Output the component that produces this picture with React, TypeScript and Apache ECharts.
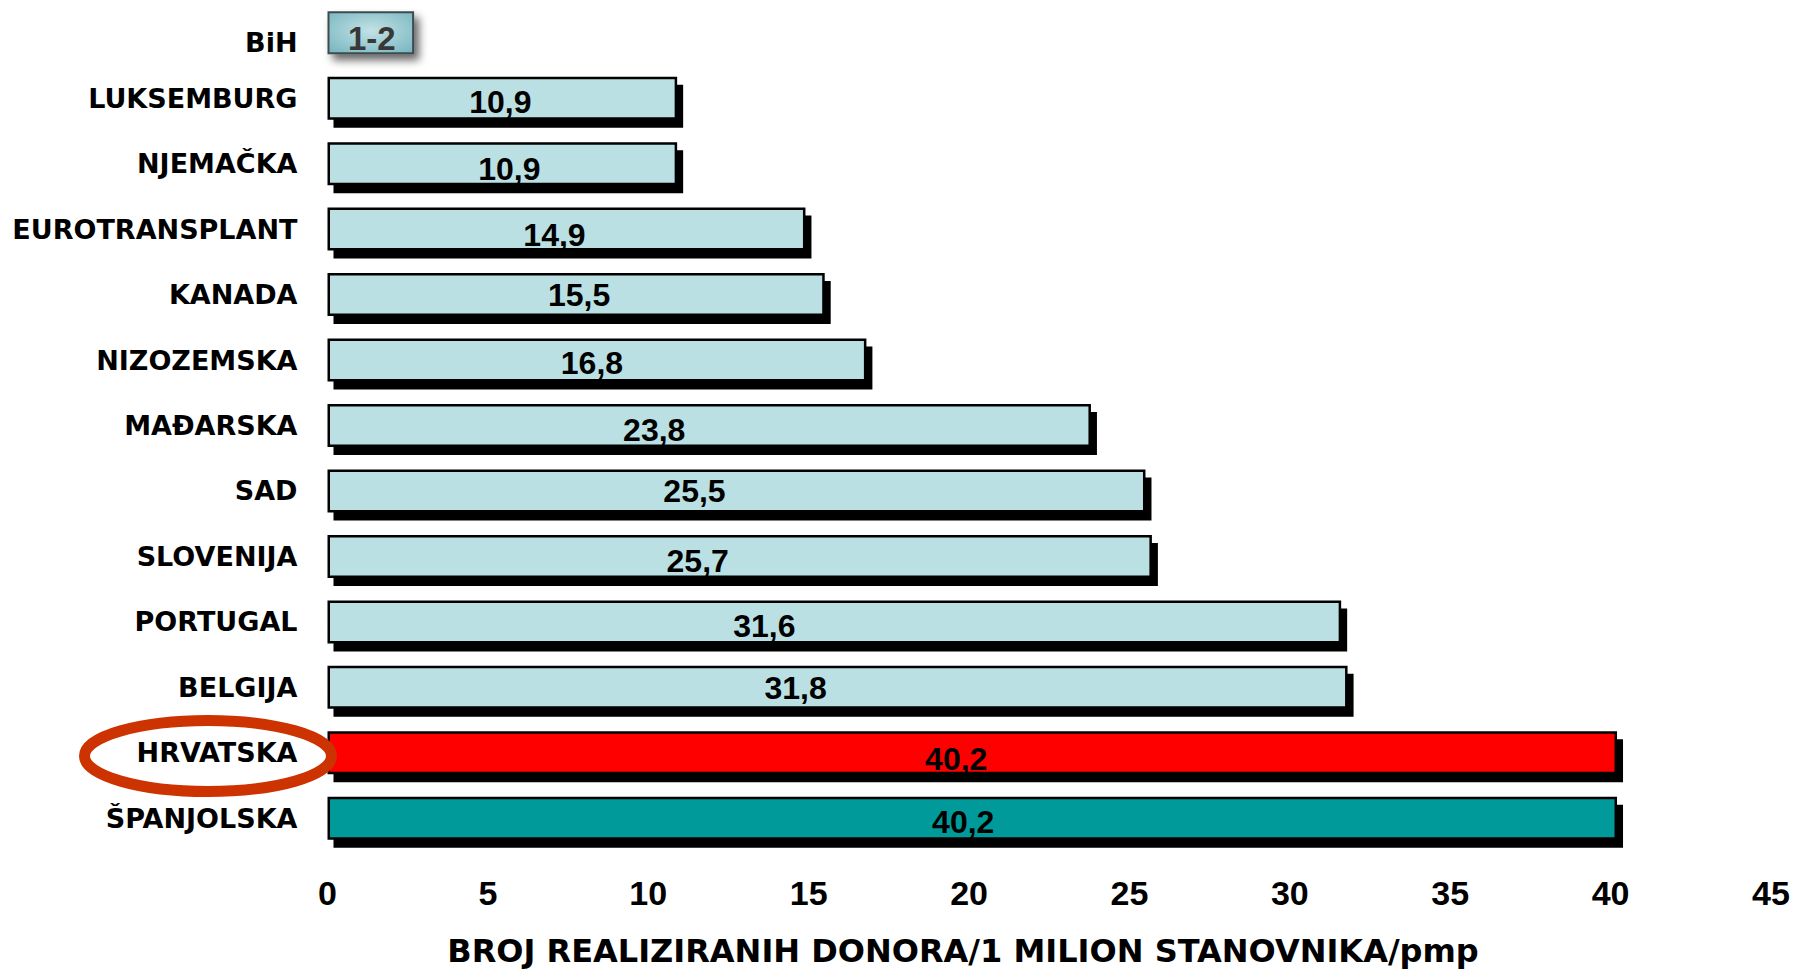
import React, { useEffect, useRef } from "react";
import * as echarts from "echarts";

const categories = [
  "BiH",
  "LUKSEMBURG",
  "NJEMAČKA",
  "EUROTRANSPLANT",
  "KANADA",
  "NIZOZEMSKA",
  "MAĐARSKA",
  "SAD",
  "SLOVENIJA",
  "PORTUGAL",
  "BELGIJA",
  "HRVATSKA",
  "ŠPANJOLSKA",
];
const values = [2.7, 10.9, 10.9, 14.9, 15.5, 16.8, 23.8, 25.5, 25.7, 31.6, 31.8, 40.2, 40.2];
const valueLabels = ["1-2", "10,9", "10,9", "14,9", "15,5", "16,8", "23,8", "25,5", "25,7", "31,6", "31,8", "40,2", "40,2"];
const xMin = 0;
const xMax = 45;
const xStep = 5;
const axisTitle = "BROJ REALIZIRANIH DONORA/1 MILION STANOVNIKA/pmp";

// layout nudges for the value labels (pixels), as placed in the reference
const LABEL_NUDGE: [number, number][] = [
  [1, 6], [-2, 4], [7, 5], [-12, 6], [3, 0], [-5, 3], [-55, 4],
  [-42, 0], [-42, 5], [-70, 4], [-42, 1], [-16, 6], [-9, 4],
];

const LIGHT = "#BAE0E3";
const RED = "#FF0000";
const TEAL = "#029A9A";

export default function App() {
  const ref = useRef<HTMLDivElement>(null);

  useEffect(() => {
    if (!ref.current) return;
    const chart = echarts.init(ref.current, undefined, { renderer: "svg" });

    const barData = values.map((v, i) => {
      const name = categories[i];
      const isBih = i === 0;
      let color: any = LIGHT;
      if (name === "HRVATSKA") color = RED;
      if (name === "ŠPANJOLSKA") color = TEAL;
      if (isBih) {
        color = {
          type: "radial",
          x: 0.5,
          y: 0.45,
          r: 0.75,
          colorStops: [
            { offset: 0, color: "#C2E2E6" },
            { offset: 1, color: "#74B3BD" },
          ],
        };
      }
      return {
        value: v,
        itemStyle: isBih
          ? {
              color,
              borderColor: "#3E4C50",
              borderWidth: 2,
              shadowColor: "rgba(0,0,0,0.6)",
              shadowBlur: 8,
              shadowOffsetX: 5,
              shadowOffsetY: 6,
            }
          : {
              color,
              borderColor: "#000",
              borderWidth: 2.5,
              shadowColor: "#000",
              shadowBlur: 0,
              shadowOffsetX: 6,
              shadowOffsetY: 8,
            },
        label: {
          offset: LABEL_NUDGE[i],
          color: isBih ? "#383838" : "#000",
          fontSize: isBih ? 33 : 32,
        },
      };
    });

    chart.setOption({
      animation: false,
      grid: { left: 327.5, right: 37, top: 0, bottom: 120, containLabel: false },
      xAxis: {
        type: "value",
        min: xMin,
        max: xMax,
        interval: xStep,
        axisLine: { show: false },
        axisTick: { show: false },
        splitLine: { show: false },
        axisLabel: {
          margin: 25,
          color: "#000",
          fontFamily: "'Liberation Sans', Arial, sans-serif",
          fontWeight: "bold",
          fontSize: 34,
        },
      },
      yAxis: {
        type: "category",
        inverse: true,
        data: categories.map((c, i) =>
          i === 0 ? { value: c, textStyle: { verticalAlign: "top", lineHeight: 20 } } : c
        ),
        axisLine: { show: false },
        axisTick: { show: false },
        splitLine: { show: false },
        axisLabel: {
          margin: 30,
          color: "#000",
          fontFamily: "'DejaVu Sans', sans-serif",
          fontWeight: "bold",
          fontSize: 27,
        },
      },
      series: [
        {
          type: "bar",
          barWidth: 43,
          data: barData,
          label: {
            show: true,
            position: "inside",
            fontFamily: "'Liberation Sans', Arial, sans-serif",
            fontWeight: "bold",
            fontSize: 32,
            formatter: (p: any) => valueLabels[p.dataIndex],
          },
          emphasis: { disabled: true },
        },
      ],
      graphic: [
        {
          type: "ellipse",
          shape: { cx: 208, cy: 756, rx: 123.5, ry: 35.5 },
          style: { fill: "none", stroke: "#CC3300", lineWidth: 11 },
          z: 100,
        },
        {
          type: "text",
          x: 963,
          y: 951,
          style: {
            text: axisTitle,
            fontFamily: "'DejaVu Sans', sans-serif",
            fontWeight: "bold",
            fontSize: 32,
            fill: "#000",
            align: "center",
            verticalAlign: "middle",
          },
          z: 100,
        },
      ],
    });

    return () => chart.dispose();
  }, []);

  return (
    <div
      ref={ref}
      style={{ position: "fixed", left: 0, top: 0, width: 1808, height: 971, background: "#fff" }}
    />
  );
}
